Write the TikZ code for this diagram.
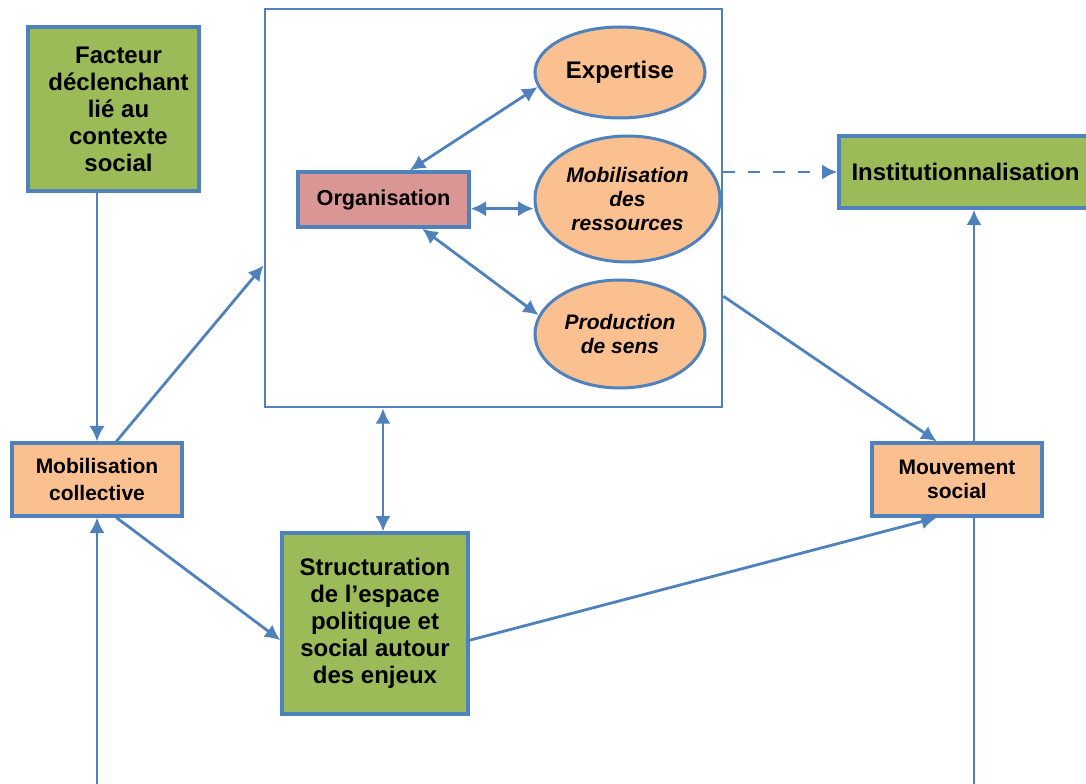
\documentclass[tikz,border=0pt]{standalone}
\usepackage{fontspec}
\setmainfont{Liberation Sans}
\usetikzlibrary{arrows.meta,shapes.geometric,backgrounds}
\definecolor{vert}{HTML}{9BBB59}
\definecolor{peche}{HTML}{FAC090}
\definecolor{rose}{HTML}{D99694}
\definecolor{bleu}{HTML}{4F81BD}
\newdimen\pix \pix=0.75pt

\begin{document}
\begin{tikzpicture}[x=0.75pt,y=-0.75pt,
    grand/.style={font=\bfseries\fontsize{18}{20.25}\selectfont},
    petit/.style={font=\bfseries\fontsize{15.75}{18}\selectfont},
    penche/.style={font=\bfseries\itshape\fontsize{15.75}{18}\selectfont},
    boite/.style={rectangle,draw=bleu,line width=2.5pt,inner sep=0pt,align=center},
    bulle/.style={ellipse,draw=bleu,line width=2.25pt,fill=peche,inner sep=0pt,align=center},
    fleche/.style={draw=bleu,line width=2.1pt,>={Latex[length=11.5pt,width=11.5pt]},->}]
      \useasboundingbox (0,0) rectangle (1086,784);
      \coordinate (bas1) at (97,784);
      \coordinate (bas2) at (974,784);
      \coordinate (axe) at (383,0);
      \begin{scope}[every node/.style=boite]
        \node[fill=vert,grand,minimum width=171\pix,minimum height=164\pix] (facteur) at (113.5,109)
          {\hspace*{10\pix}Facteur\\\hspace*{10\pix}déclenchant\\\hspace*{10\pix}lié au\\\hspace*{10\pix}contexte\\\hspace*{10\pix}social};
        \node[line width=2.1pt,minimum width=457\pix,minimum height=398\pix] (cadre) at (493.5,208) {};
        \node[fill=rose,font=\bfseries\fontsize{16.25}{18}\selectfont,minimum width=171\pix,minimum height=55\pix] (org) at (383.5,199.5) {Organisation};
        \node[fill=vert,grand,minimum width=253\pix,minimum height=72\pix] (inst) at (965.5,172) {Institutionnalisation};
        \node[fill=peche,font=\bfseries\fontsize{15.75}{20.25}\selectfont,minimum width=170\pix,minimum height=73\pix] (mobcoll) at (97,479.5)
          {Mobilisation\\collective};
        \node[fill=vert,grand,minimum width=186\pix,minimum height=181\pix] (struct) at (375,623.5)
          {Structuration\\de l’espace\\politique et\\social autour\\des enjeux};
        \node[fill=peche,petit,minimum width=170\pix,minimum height=73\pix] (mouv) at (957,479.5) {Mouvement\\social};
      \end{scope}
      \begin{scope}[every node/.style=bulle]
        \node[grand,minimum width=170\pix,minimum height=91\pix] (expert) at (620,72.5) {Expertise};
        \node[penche,minimum width=185\pix,minimum height=126\pix] (res) at (627.5,199)
          {Mobilisation\\des\\ressources};
        \node[penche,minimum width=170\pix,minimum height=108\pix] (prod) at (620,334)
          {Production\\de sens};
      \end{scope}
      \begin{scope}[on background layer,every edge/.style=fleche]
        \path (bas2) edge (inst.south -| bas2);
      \end{scope}
      \begin{scope}[every edge/.style=fleche]
        \path (facteur.south -| mobcoll.north) edge (mobcoll.north);
        \path (mobcoll.63) edge (cadre.194);
        \path (mobcoll.297) edge (struct.190);
        \path (struct.350) edge (mouv.242);
        \path (cadre.339) edge (mouv.118);
        \path (bas1) edge (mobcoll.south);
        \path (cadre.south -| axe) edge[<->] (struct.north -| axe);
        \path (org.48) edge[<->] (expert.190);
        \path (org.-6) edge[<->] (res.west |- org.-6);
        \path (org.-37) edge[<->] (prod.167);
        \path (cadre.east |- inst.west) edge[dash pattern=on 9pt off 9.75pt] (inst.west);
      \end{scope}
    \end{tikzpicture}
\end{document}
